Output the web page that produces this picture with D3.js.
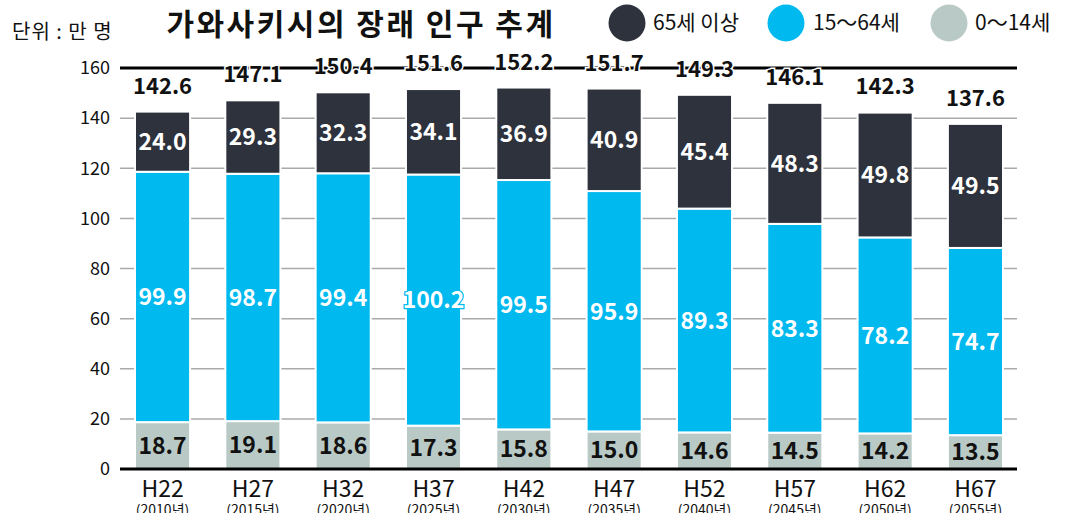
<!DOCTYPE html>
<html>
<head>
<meta charset="utf-8">
<script src="https://cdn.jsdelivr.net/npm/d3@7"></script>
<style>
  body { margin: 0; background: #fff; }
  svg { display: block; font-family: 'Noto Sans CJK KR', 'Noto Sans', sans-serif; }
</style>
</head>
<body>
<svg id="chart" width="1067" height="513"></svg>
<script>
const categories = ['H22', 'H27', 'H32', 'H37', 'H42', 'H47', 'H52', 'H57', 'H62', 'H67'];
const years = ['(2010년)', '(2015년)', '(2020년)', '(2025년)', '(2030년)', '(2035년)', '(2040년)', '(2045년)', '(2050년)', '(2055년)'];
const age0to14 = [18.7, 19.1, 18.6, 17.3, 15.8, 15.0, 14.6, 14.5, 14.2, 13.5];
const age15to64 = [99.9, 98.7, 99.4, 100.2, 99.5, 95.9, 89.3, 83.3, 78.2, 74.7];
const age65plus = [24.0, 29.3, 32.3, 34.1, 36.9, 40.9, 45.4, 48.3, 49.8, 49.5];
const totals = [142.6, 147.1, 150.4, 151.6, 152.2, 151.7, 149.3, 146.1, 142.3, 137.6];
const yTicks = [0, 20, 40, 60, 80, 100, 120, 140, 160];

const seriesKeys = ['a0', 'a15', 'a65'];
const seriesNames = { a65: '65세 이상', a15: '15〜64세', a0: '0〜14세' };
const colors = { a0: '#b9cac6', a15: '#00b9ef', a65: '#2d323c' };
const labelColors = { a0: '#111', a15: '#fff', a65: '#fff' };

const data = categories.map((c, i) => ({
  cat: c, year: years[i], a0: age0to14[i], a15: age15to64[i], a65: age65plus[i], total: totals[i]
}));

const svg = d3.select('#chart');
const margin = { top: 68, left: 116, right: 50, bottom: 44 };
const width = 1067 - margin.left - margin.right;
const height = 513 - margin.top - margin.bottom;

// bars sit from x=135 to x=1003 in the picture
const x = d3.scaleBand().domain(categories).range([19, 887]).paddingInner(0.39).paddingOuter(0);
const y = d3.scaleLinear().domain([0, 160]).range([height, 0]);

const g = svg.append('g').attr('transform', `translate(${margin.left},${margin.top})`);

// gridlines
g.append('g')
  .selectAll('line')
  .data(yTicks.filter(d => d > 0 && d < 160))
  .join('line')
  .attr('x1', 4).attr('x2', width)
  .attr('y1', d => y(d)).attr('y2', d => y(d))
  .attr('stroke', '#aaa').attr('stroke-width', 1.5);

// y tick labels
g.append('g')
  .selectAll('text')
  .data(yTicks)
  .join('text')
  .attr('x', -6)
  .attr('y', d => y(d))
  .attr('dy', '0.35em')
  .attr('text-anchor', 'end')
  .attr('font-size', 18)
  .attr('fill', '#111')
  .text(d => d);

// stacked bars
const stack = d3.stack().keys(seriesKeys)(data);
const layers = g.append('g')
  .selectAll('g')
  .data(stack)
  .join('g')
  .attr('fill', d => colors[d.key]);

layers.selectAll('rect')
  .data(d => d)
  .join('rect')
  .attr('x', d => x(d.data.cat))
  .attr('y', d => y(d[1]))
  .attr('width', x.bandwidth())
  .attr('height', d => y(d[0]) - y(d[1]))
  .attr('stroke', '#fff')
  .attr('stroke-width', 2);

// top line and baseline
g.append('line')
  .attr('x1', 4).attr('x2', width)
  .attr('y1', y(160)).attr('y2', y(160))
  .attr('stroke', '#000').attr('stroke-width', 3);
g.append('line')
  .attr('x1', 4).attr('x2', width)
  .attr('y1', y(0)).attr('y2', y(0))
  .attr('stroke', '#000').attr('stroke-width', 3);

// segment labels
stack.forEach(layer => {
  g.append('g')
    .selectAll('text')
    .data(layer)
    .join('text')
    .attr('x', d => x(d.data.cat) + x.bandwidth() / 2)
    .attr('y', d => (y(d[0]) + y(d[1])) / 2)
    .attr('dy', '0.36em')
    .attr('text-anchor', 'middle')
    .attr('font-size', 23)
    .attr('font-weight', 'bold')
    .attr('fill', labelColors[layer.key])
    .attr('stroke', colors[layer.key])
    .attr('stroke-width', 2.5)
    .attr('paint-order', 'stroke')
    .text(d => d.data[layer.key].toFixed(1));
});

// totals
g.append('g')
  .selectAll('text')
  .data(data)
  .join('text')
  .attr('x', d => x(d.cat) + x.bandwidth() / 2)
  .attr('y', d => y(d.total) - 18)
  .attr('text-anchor', 'middle')
  .attr('font-size', 22)
  .attr('font-weight', 'bold')
  .attr('fill', '#111')
  .attr('stroke', '#fff')
  .attr('stroke-width', 3)
  .attr('paint-order', 'stroke')
  .text(d => d.total.toFixed(1));

// x labels
const xl = g.append('g')
  .selectAll('g')
  .data(data)
  .join('g')
  .attr('transform', d => `translate(${x(d.cat) + x.bandwidth() / 2},${height})`);
xl.append('text')
  .attr('y', 28)
  .attr('text-anchor', 'middle')
  .attr('font-size', 23)
  .attr('fill', '#111')
  .text(d => d.cat);
xl.append('text')
  .attr('y', 46)
  .attr('text-anchor', 'middle')
  .attr('font-size', 14)
  .attr('fill', '#111')
  .text(d => d.year);

// title and unit
svg.append('text')
  .attr('x', 12).attr('y', 39)
  .attr('font-size', 20)
  .attr('letter-spacing', 1)
  .attr('fill', '#111')
  .text('단위 : 만 명');
svg.append('text')
  .attr('x', 361).attr('y', 35)
  .attr('text-anchor', 'middle')
  .attr('font-size', 30)
  .attr('font-weight', 'bold')
  .attr('letter-spacing', 2.5)
  .attr('fill', '#111')
  .text('가와사키시의 장래 인구 추계');

// legend
const legendItems = [
  { key: 'a65', cx: 627, tx: 653 },
  { key: 'a15', cx: 786, tx: 813 },
  { key: 'a0', cx: 949, tx: 975 }
];
const lg = svg.append('g').selectAll('g').data(legendItems).join('g');
lg.append('circle')
  .attr('cx', d => d.cx).attr('cy', 23).attr('r', 18.5)
  .attr('fill', d => colors[d.key]);
lg.append('text')
  .attr('x', d => d.tx).attr('y', 23)
  .attr('dy', '0.35em')
  .attr('font-size', 21)
  .attr('fill', '#111')
  .text(d => seriesNames[d.key]);
</script>
</body>
</html>
